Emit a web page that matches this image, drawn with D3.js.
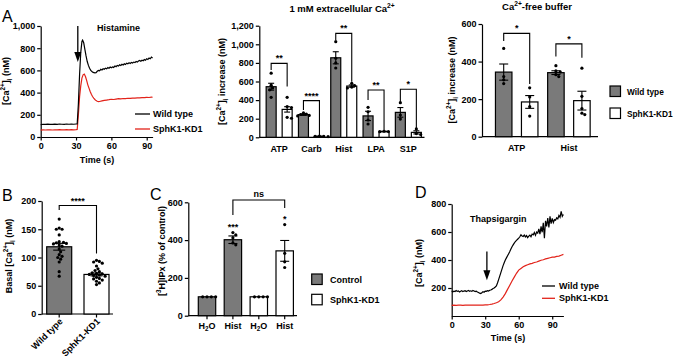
<!DOCTYPE html>
<html>
<head>
<meta charset="utf-8">
<script src="https://cdn.jsdelivr.net/npm/d3@7"></script>
<style>
body { margin: 0; background: #fff; }
svg { font-family: "Liberation Sans", Arial, sans-serif; font-weight: bold; }
</style>
</head>
<body>
<svg id="fig" width="676" height="359"></svg>
<script>
// ---------- data ----------
// A, histamine traces: [time (s), Ca2+ (nM)]
var histWT = [[0,112],[2,115],[4,113],[6,116],[8,114],[10,113],[12,116],[14,114],[16,117],[18,115],[20,114],[22,117],[24,115],[26,116],[28,115],[30,117],[31,118],
  [32,300],[33,560],[34,760],[35,860],[35.6,873],[36.5,850],[37.5,790],[38.5,730],[39.5,680],[40.5,645],[41.5,620],[42.5,600],[43.5,590],[44.5,582],[46,578],[47,580],
  [48,592],[49,600],[50,596],[51,610],[52,604],[53,615],[54,610],[55,620],[56,614],[57,625],[58,619],[59,630],[60,624],[61,632],[62,627],[63,640],[64,634],[65,645],
  [66,639],[67,650],[68,644],[69,655],[70,649],[71,660],[72,654],[73,665],[74,659],[75,668],[76,662],[77,672],[78,667],[79,675],[80,670],[81,680],[82,675],[83,685],
  [84,690],[85,683],[86,692],[87,687],[88,698],[89,692],[90,705],[91,699],[92,712],[93,705],[94,720],[95,712]];
var histKD = [[0,62],[2,64],[4,63],[6,65],[8,64],[10,63],[12,65],[14,64],[16,66],[18,65],[20,64],[22,66],[24,65],[26,66],[28,65],[30,66],[31,68],
  [32,200],[33,360],[34,460],[35,530],[36,560],[37,567],[38,545],[39,510],[40,470],[41,440],[42,410],[43,385],[44,365],[45,350],[46,338],[47,328],[48,322],[49,318],
  [50,320],[52,325],[54,330],[56,333],[58,336],[60,340],[62,338],[64,342],[66,345],[68,343],[70,347],[72,345],[74,349],[76,348],[78,351],[80,350],[82,353],[84,352],
  [86,355],[88,354],[90,357],[92,356],[94,359],[95,358]];

// A, 1 mM extracellular Ca2+
var agonists = ["ATP", "Carb", "Hist", "LPA", "S1P"];
var extMeanWT = [544, 244, 855, 230, 268];
var extMeanKD = [300, 10, 551, 62, 53];
var extSemWT = [37, 8, 65, 50, 52];
var extSemKD = [29, 2, 12, 3, 17];
var extPtsWT = [[690, 560, 530, 510, 430], [262, 250, 245, 235, 230], [1028, 850, 800, 745], [322, 275, 186, 143], [372, 240, 196]];
var extPtsKD = [[430, 330, 320, 215, 205], [12, 10, 10, 8], [580, 555, 540, 530], [65, 62, 60], [90, 40, 30]];
var extSigTop = [795, 394, 1118, 508, 516];
var extSigLeft = [723, 293, 1045, 400, 383];
var extSigRight = [545, 25, 598, 78, 100];
var extSigLabel = ["**", "****", "**", "**", "*"];

// A, Ca2+-free buffer
var freeGroups = ["ATP", "Hist"];
var freeMeanWT = [344, 341];
var freeMeanKD = [185, 192];
var freeSemWT = [43, 10];
var freeSemKD = [34, 50];
var freePtsWT = [[470, 320, 303, 283], [378, 350, 345, 330, 320]];
var freePtsKD = [[260, 212, 160, 110], [365, 215, 150, 125, 118]];
var freeSigTop = [550, 494];
var freeSigLeft = [510, 427];
var freeSigRight = [280, 420];
var freeSigLabel = ["*", "*"];

// B, basal Ca2+
var basalGroups = ["Wild type", "SphK1-KD1"];
var basalMean = [119, 70];
var basalSem = [6, 2.5];
var basalWT = [168, 152, 150, 150, 140, 128, 127, 126, 125, 124, 122, 120, 115, 110, 105, 102, 100, 97, 92, 75, 67];
var basalKD = [95, 93, 92, 90, 85, 80, 77, 75, 73, 72, 71, 70, 69, 68, 67, 65, 63, 62, 60, 58, 55, 52];

// C, [3H]IPx
var ipxLabels = ["H2O", "Hist", "H2O", "Hist"];
var ipxMean = [100, 402, 100, 343];
var ipxSem = [0, 20, 0, 55];
var ipxPts = [[100, 100, 100, 100], [440, 428, 412, 385, 375], [100, 100, 100, 100], [482, 330, 285, 255]];
var ipxStars = ["", "***", "", "*"];

// D, thapsigargin traces
var thapWT = [[0,180],[1,172],[2,178],[3,175],[4,182],[5,176],[6,179],[7,171],[8,177],[9,180],[10,174],[11,178],[12,181],[13,175],[14,179],[15,183],[16,177],
  [17,180],[18,176],[19,182],[20,178],[21,174],[22,177],[23,171],[24,168],[25,163],[26,160],[27,166],[28,174],[29,170],[30,178],[31,176],[32,181],[33,178],
  [34,184],[35,186],[36,190],[37,196],[38,200],[39,207],[40,215],[41,236],[42,260],[43,285],[44,310],[45,335],[46,360],[47,380],[48,400],[49,415],[50,430],
  [51,445],[52,460],[53,478],[54,495],[55,508],[56,520],[57,532],[58,540],[59,548],[60,556],[61,566],[62,580],[63,572],[64,568],[65,578],[66,565],[67,574],
  [68,560],[69,570],[70,578],[71,566],[72,585],[73,580],[74,596],[75,576],[76,600],[77,592],[78,622],[79,584],[80,640],[81,598],[82,665],[83,556],[84,680],
  [85,640],[86,700],[87,632],[88,712],[89,660],[90,698],[91,668],[92,688],[93,684],[94,702],[95,694],[96,718],[97,705],[98,748],[99,712],[100,725]];
var thapKD = [[0,76],[2,77],[4,76],[6,78],[8,77],[10,76],[12,78],[14,77],[16,78],[18,77],[20,78],[22,77],[24,78],[26,77],[28,78],[30,79],[32,80],[34,82],
  [36,85],[38,89],[40,95],[42,102],[44,115],[46,135],[48,160],[50,190],[52,220],[54,250],[56,278],[58,305],[60,328],[62,340],[64,352],[66,360],[68,366],
  [70,372],[72,376],[74,382],[76,386],[78,392],[80,398],[82,402],[84,408],[86,412],[88,416],[90,420],[92,421],[94,426],[96,428],[98,434],[100,440]];

// ---------- helpers ----------
var svg = d3.select("#fig");
var RED = "#e2231a", GRAY = "#7a7a7a", FS = 9;

// text with super/subscripts: parts = [[text, "sup"|"sub"|null], ...]
function rich(x, y, parts, size, anchor, rot) {
    var t = svg.append("text").attr("font-size", size).attr("text-anchor", anchor || "middle")
        .attr("transform", "translate(" + x + "," + y + ")" + (rot ? " rotate(" + rot + ")" : ""));
    var shift = 0;
    parts.forEach(function (p) {
        var s = t.append("tspan").text(p[0]);
        var want = p[1] == "sup" ? -size * 0.4 : p[1] == "sub" ? size * 0.3 : 0;
        if (want != shift) { s.attr("dy", want - shift); shift = want; }
        if (p[1]) s.attr("font-size", size * 0.7);
    });
    return t;
}

function styleAxis(g) {
    g.attr("font-family", null).attr("font-size", FS);
    g.selectAll(".domain, .tick line").attr("stroke-width", 1.2);
    g.selectAll("text").attr("fill", "#000");
}

function yAxis(x, y, ticks) {
    return svg.append("g").attr("transform", "translate(" + x + ",0)")
        .call(d3.axisLeft(y).tickValues(ticks).tickSize(3.5).tickPadding(2).tickSizeOuter(0))
        .call(styleAxis);
}

function baseLine(x1, x2, y) {
    svg.append("line").attr("x1", x1).attr("x2", x2).attr("y1", y).attr("y2", y)
        .attr("stroke", "#000").attr("stroke-width", 1.2);
}

// simple beeswarm: nudge dots sideways until they stop overlapping
function swarm(vals, y, r, cx) {
    var placed = [];
    return vals.map(function (v) {
        var py = y(v), off = 0;
        for (var k = 0; k < 60; k++) {
            var cand = (k % 2 ? 1 : -1) * Math.ceil(k / 2) * r * 0.9;
            var ok = placed.every(function (p) { return Math.hypot(p[0] - cand, p[1] - py) >= 2 * r * 0.95; });
            if (ok) { off = cand; break; }
        }
        placed.push([off, py]);
        return [cx + off, py];
    });
}

function drawBar(cx, w, val, sem, pts, fill, y, cap) {
    svg.append("rect").attr("x", cx - w / 2).attr("y", y(val)).attr("width", w).attr("height", y(0) - y(val))
        .attr("fill", fill).attr("stroke", "#000").attr("stroke-width", 1.2);
    if (sem > 0) {
        var e = svg.append("g").attr("stroke", "#000").attr("stroke-width", 1.1);
        e.append("line").attr("x1", cx).attr("x2", cx).attr("y1", y(val - sem)).attr("y2", y(val + sem));
        [val - sem, val + sem].forEach(function (v) {
            e.append("line").attr("x1", cx - cap).attr("x2", cx + cap).attr("y1", y(v)).attr("y2", y(v));
        });
    }
    swarm(pts, y, 1.6, cx).forEach(function (p) {
        svg.append("circle").attr("cx", p[0]).attr("cy", p[1]).attr("r", 1.6).attr("fill", "#000");
    });
}

function bracket(x1, x2, yTop, yL, yR, label, dyText) {
    svg.append("path").attr("d", "M" + x1 + "," + yL + "V" + yTop + "H" + x2 + "V" + yR)
        .attr("fill", "none").attr("stroke", "#000").attr("stroke-width", 1.1);
    svg.append("text").attr("x", (x1 + x2) / 2).attr("y", yTop - (dyText || 2))
        .attr("text-anchor", "middle").attr("font-size", FS).text(label);
}

function arrow(x, y1, y2) {
    svg.append("line").attr("x1", x).attr("x2", x).attr("y1", y1).attr("y2", y2 - 8)
        .attr("stroke", "#000").attr("stroke-width", 1.3);
    svg.append("path").attr("d", "M" + (x - 3.5) + "," + (y2 - 10) + "L" + (x + 3.5) + "," + (y2 - 10) + "L" + x + "," + y2 + "Z")
        .attr("fill", "#000");
}

function trace(data, x, y, color) {
    svg.append("path").datum(data)
        .attr("d", d3.line().x(function (d) { return x(d[0]); }).y(function (d) { return y(d[1]); }))
        .attr("fill", "none").attr("stroke", color).attr("stroke-width", 1.2);
}

function panelLetter(x, y, s) {
    svg.append("text").attr("x", x).attr("y", y).attr("font-size", 16).attr("font-weight", "normal").text(s);
}

var caLabel = [["[Ca", null], ["2+", "sup"], ["]", null], ["i", "sub"], [" (nM)", null]];

// ---------- A: histamine traces ----------
panelLetter(2, 22, "A");
var xA = d3.scaleLinear().domain([0, 95]).range([40.7, 152.6]);
var yA = d3.scaleLinear().domain([0, 1000]).range([137, 26]);
yAxis(40.7, yA, [0, 200, 400, 600, 800, 1000]);
svg.append("g").attr("transform", "translate(0,137)")
    .call(d3.axisBottom(xA).tickValues([0, 30, 60, 90]).tickSize(3.5).tickPadding(2).tickSizeOuter(0))
    .call(styleAxis);
trace(histKD, xA, yA, RED);
trace(histWT, xA, yA, "#000");
arrow(xA(31.5), yA(1000), yA(675));
svg.append("text").attr("x", 97).attr("y", 31).attr("font-size", FS).text("Histamine");
rich(9, 81, caLabel, FS, "middle", -90);
svg.append("text").attr("x", 97).attr("y", 163).attr("text-anchor", "middle").attr("font-size", FS).text("Time (s)");
[["Wild type", "#000"], ["SphK1-KD1", RED]].forEach(function (d, i) {
    var yy = 114 + i * 15;
    svg.append("line").attr("x1", 135).attr("x2", 150).attr("y1", yy).attr("y2", yy).attr("stroke", d[1]).attr("stroke-width", 1.3);
    svg.append("text").attr("x", 153).attr("y", yy + 3).attr("font-size", FS).text(d[0]);
});

// ---------- A: 1 mM extracellular Ca2+ ----------
var xM = d3.scaleBand().domain(agonists).range([263, 424.5]);
var yM = d3.scaleLinear().domain([0, 1200]).range([137.3, 25.7]);
yAxis(259.3, yM, [0, 200, 400, 600, 800, 1000, 1200]);
baseLine(259.3, 424.5, yM(0));
svg.append("g").attr("transform", "translate(0," + yM(0) + ")")
    .call(d3.axisBottom(xM).tickSize(0).tickPadding(8))
    .call(styleAxis).call(function (g) { g.select(".domain").remove(); });
agonists.forEach(function (a, i) {
    var c = xM(a) + xM.bandwidth() / 2;
    drawBar(c - 8, 10, extMeanWT[i], extSemWT[i], extPtsWT[i], GRAY, yM, 3);
    drawBar(c + 8, 10, extMeanKD[i], extSemKD[i], extPtsKD[i], "#fff", yM, 3);
    bracket(c - 8, c + 8, yM(extSigTop[i]), yM(extSigLeft[i]), yM(extSigRight[i]), extSigLabel[i]);
});
rich(342, 12, [["1 mM extracellular Ca", null], ["2+", "sup"]], 9.5, "middle");
rich(225, 81.5, [["[Ca", null], ["2+", "sup"], ["]", null], ["i", "sub"], [" increase (nM)", null]], FS, "middle", -90);

// ---------- A: Ca2+-free buffer ----------
var xF = d3.scaleBand().domain(freeGroups).range([490.6, 595]);
var yF = d3.scaleLinear().domain([0, 600]).range([136.7, 24]);
yAxis(482, yF, [0, 200, 400, 600]);
baseLine(482, 598, yF(0));
svg.append("g").attr("transform", "translate(0," + yF(0) + ")")
    .call(d3.axisBottom(xF).tickSize(0).tickPadding(8))
    .call(styleAxis).call(function (g) { g.select(".domain").remove(); });
freeGroups.forEach(function (a, i) {
    var c = xF(a) + xF.bandwidth() / 2;
    drawBar(c - 13, 16.5, freeMeanWT[i], freeSemWT[i], freePtsWT[i], GRAY, yF, 4.5);
    drawBar(c + 13, 16.5, freeMeanKD[i], freeSemKD[i], freePtsKD[i], "#fff", yF, 4.5);
    bracket(c - 13, c + 13, yF(freeSigTop[i]), yF(freeSigLeft[i]), yF(freeSigRight[i]), freeSigLabel[i]);
});
rich(537, 10, [["Ca", null], ["2+", "sup"], ["-free buffer", null]], 9.5, "middle");
rich(455, 80, [["[Ca", null], ["2+", "sup"], ["]", null], ["i", "sub"], [" increase (nM)", null]], FS, "middle", -90);
[["Wild type", GRAY], ["SphK1-KD1", "#fff"]].forEach(function (d, i) {
    var yy = 86 + i * 22;
    svg.append("rect").attr("x", 610).attr("y", yy).attr("width", 10.5).attr("height", 10.5)
        .attr("fill", d[1]).attr("stroke", "#000").attr("stroke-width", 1.2);
    svg.append("text").attr("x", 627).attr("y", yy + 8.5).attr("font-size", 8.3).text(d[0]);
});

// ---------- B: basal Ca2+ ----------
panelLetter(2, 201, "B");
var xB = d3.scaleBand().domain(basalGroups).range([40.55, 115.15]);
var yB = d3.scaleLinear().domain([0, 200]).range([314, 201]);
yAxis(41.7, yB, [0, 50, 100, 150, 200]);
baseLine(41.7, 113, yB(0));
var gB = svg.append("g").attr("transform", "translate(0," + yB(0) + ")")
    .call(d3.axisBottom(xB).tickSize(3.5).tickPadding(2))
    .call(styleAxis).call(function (g) { g.select(".domain").remove(); });
gB.selectAll("text").attr("text-anchor", "end").attr("dy", null)
    .attr("transform", "translate(4,8) rotate(-45)").attr("y", 0);
[basalWT, basalKD].forEach(function (pts, i) {
    var c = xB(basalGroups[i]) + xB.bandwidth() / 2;
    drawBar(c, 25, basalMean[i], basalSem[i], pts, i ? "#fff" : GRAY, yB, 6);
});
var cB0 = xB(basalGroups[0]) + xB.bandwidth() / 2, cB1 = xB(basalGroups[1]) + xB.bandwidth() / 2;
bracket(cB0, cB1, yB(192), yB(184), yB(107), "****");
rich(12, 256, [["Basal [Ca", null], ["2+", "sup"], ["]", null], ["i", "sub"], [" (nM)", null]], FS, "middle", -90);

// ---------- C: [3H]IPx ----------
panelLetter(150, 200, "C");
var xC = d3.scaleBand().domain([0, 1, 2, 3]).range([194.05, 297.65]);
var yC = d3.scaleLinear().domain([0, 600]).range([315.7, 202.3]);
yAxis(188.3, yC, [0, 200, 400, 600]);
baseLine(188.3, 297, yC(0));
var gC = svg.append("g").attr("transform", "translate(0," + yC(0) + ")")
    .call(d3.axisBottom(xC).tickSize(3.5).tickPadding(3).tickFormat(function () { return ""; }))
    .call(styleAxis).call(function (g) { g.select(".domain").remove(); });
gC.selectAll(".tick text").each(function (d) {
    var t = d3.select(this), lab = ipxLabels[d];
    if (lab == "H2O") {
        t.append("tspan").text("H");
        t.append("tspan").text("2").attr("font-size", FS * 0.7).attr("dy", 2.5);
        t.append("tspan").text("O").attr("dy", -2.5);
    } else t.text(lab);
});
ipxMean.forEach(function (m, i) {
    var c = xC(i) + xC.bandwidth() / 2;
    drawBar(c, 17.4, m, ipxSem[i], ipxPts[i], i < 2 ? GRAY : "#fff", yC, 4.5);
    if (ipxStars[i]) {
        var top = d3.max(ipxPts[i]);
        svg.append("text").attr("x", c).attr("y", yC(top) - 3).attr("text-anchor", "middle").attr("font-size", FS).text(ipxStars[i]);
    }
});
bracket(xC(1) + xC.bandwidth() / 2, xC(3) + xC.bandwidth() / 2, yC(612), yC(533), yC(570), "ns", 3);
rich(165, 251, [["[", null], ["3", "sup"], ["H]IPx (% of control)", null]], FS, "middle", -90);
[["Control", GRAY], ["SphK1-KD1", "#fff"]].forEach(function (d, i) {
    var yy = 274 + i * 20.3;
    svg.append("rect").attr("x", 311.7).attr("y", yy).attr("width", 10.5).attr("height", 10.5)
        .attr("fill", d[1]).attr("stroke", "#000").attr("stroke-width", 1.2);
    svg.append("text").attr("x", 330).attr("y", yy + 9).attr("font-size", FS).text(d[0]);
});

// ---------- D: thapsigargin traces ----------
panelLetter(415, 198, "D");
var xD = d3.scaleLinear().domain([0, 100]).range([451.7, 563.4]);
var yD = d3.scaleLinear().domain([0, 800]).range([316, 204]);
yAxis(451.7, yD, [200, 400, 600, 800]);
svg.append("g").attr("transform", "translate(0,316)")
    .call(d3.axisBottom(xD).tickValues([0, 30, 60, 90]).tickSize(3.5).tickPadding(2).tickSizeOuter(0))
    .call(styleAxis);
trace(thapKD, xD, yD, RED);
trace(thapWT, xD, yD, "#000");
arrow(xD(31.5), yD(460), yD(255));
svg.append("text").attr("x", 470).attr("y", 222).attr("font-size", FS).text("Thapsigargin");
rich(422, 263, caLabel, FS, "middle", -90);
svg.append("text").attr("x", 508).attr("y", 341).attr("text-anchor", "middle").attr("font-size", FS).text("Time (s)");
[["Wild type", "#000"], ["SphK1-KD1", RED]].forEach(function (d, i) {
    var yy = 286 + i * 12.3;
    svg.append("line").attr("x1", 542).attr("x2", 555).attr("y1", yy).attr("y2", yy).attr("stroke", d[1]).attr("stroke-width", 1.3);
    svg.append("text").attr("x", 559).attr("y", yy + 3).attr("font-size", FS).text(d[0]);
});
</script>
</body>
</html>
